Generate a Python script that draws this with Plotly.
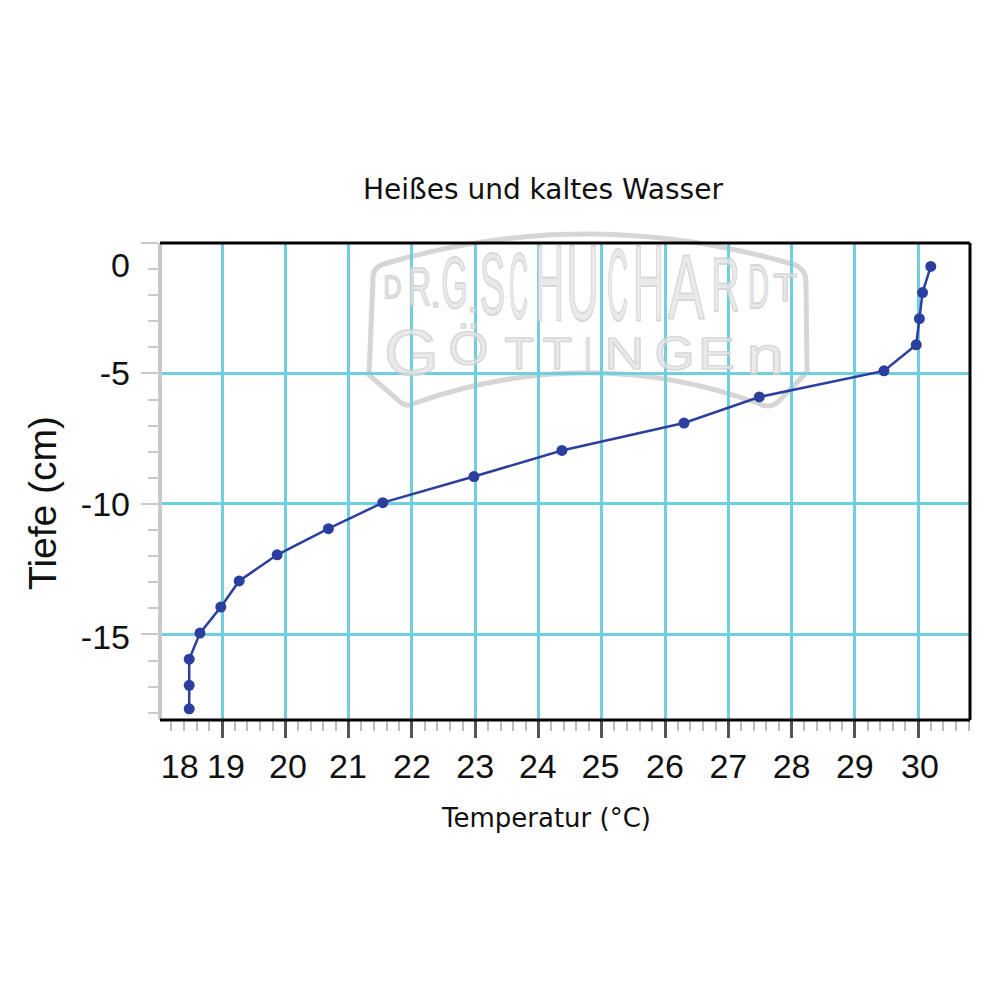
import json
import plotly.graph_objects as go

# ---- data ----
temperature = [30.20, 30.07, 30.02, 29.97, 29.46, 27.49, 26.30, 24.37, 22.98,
               21.54, 20.68, 19.87, 19.27, 18.98, 18.65, 18.48, 18.48, 18.48]
depth = [-0.9, -1.9, -2.9, -3.9, -4.9, -5.9, -6.9, -7.95, -8.95,
         -9.95, -10.95, -11.95, -12.95, -13.95, -14.95, -15.95, -16.95, -17.85]

x_ticks = list(range(19, 31))
x_tick_labels = ["18", "19", "20", "21", "22", "23", "24", "25", "26", "27", "28", "29", "30"]
x_label_places = [18.33, 19.06, 20.04, 20.99, 22, 23, 23.99, 24.98, 26, 27, 28, 29, 30.03]
y_ticks = [0, -5, -10, -15]
y_tick_labels = ["0", "-5", "-10", "-15"]
y_label_places = [-0.85, -5, -10, -15.1]

title_text = "Heißes und kaltes Wasser"
x_title = "Temperatur (°C)"
y_title = "Tiefe (cm)"

# ---- frame, in window pixels ----
L, R, T, B = 162, 970, 243, 720
PAGE = 8          # default margin of the page body
SIZE = 985
X_RANGE = [18.05, 30.82]
Y_RANGE = [-18.28, 0.0]
def px(v): return (v - L) / (R - L)
def py(v): return (B - v) / (B - T)

LINE = "#2b3f9f"
GRID = "#6fcfdf"
GREY = "#c9c9c9"
STAMP = "#d6d6d6"
STAMP_FILL = "#e6e6e6"
STAMP_EDGE = "#cfcfcf"

# watermark letters: char, centre x, centre y, width, height (window pixels)
logo = [("D", 392, 287, 17, 23), ("R", 419, 287, 22, 38), (".", 435, 293, 6, 6),
        ("G", 454, 283, 25, 52), (".", 472, 298, 7, 7), ("S", 492, 283, 24, 63),
        ("C", 518, 285, 18, 67), ("H", 549, 283, 28, 77), ("U", 582, 283, 31, 77),
        ("C", 617, 285, 20, 73), ("H", 648, 283, 30, 77), ("A", 686, 286, 35, 65),
        ("R", 725, 284, 27, 55), ("D", 758, 286, 20, 45), ("T", 785, 287, 23, 28),
        ("G", 411, 352, 52, 47), ("Ö", 468, 348, 38, 34), ("T", 519, 353, 28, 32),
        ("T", 557, 353, 28, 32), ("I", 587, 353, 7, 32), ("N", 624, 353, 38, 32),
        ("G", 674, 353, 38, 35), ("E", 716, 353, 35, 32), ("n", 765, 356, 36, 38)]

annotations = [
    dict(text=c, x=px(cx), y=py(cy), xref="paper", yref="paper", showarrow=False,
         xanchor="center", yanchor="middle",
         font=dict(family="Liberation Sans", size=40, color=STAMP_FILL))
    for c, cx, cy, w, h in logo
]
annotations += [
    dict(text=title_text, x=px(543), y=py(190), xref="paper", yref="paper", showarrow=False,
         xanchor="center", yanchor="middle",
         font=dict(family="DejaVu Sans", size=28, color="#111111")),
    dict(text=x_title, x=px(546), y=py(818), xref="paper", yref="paper", showarrow=False,
         xanchor="center", yanchor="middle",
         font=dict(family="DejaVu Sans", size=26, color="#111111")),
    dict(text=y_title, x=px(42), y=py(503), xref="paper", yref="paper", showarrow=False,
         xanchor="center", yanchor="middle",
         textangle=-90, font=dict(family="Liberation Sans", size=39, color="#111111")),
]

def P(a, b):
    return f"{px(a):.4f},{py(b):.4f}"

hexagon = ("M" + P(373, 280) + " Q" + P(372, 268) + " " + P(384, 264)
           + " Q" + P(585, 204) + " " + P(792, 264) + " Q" + P(806, 268) + " " + P(806, 282)
           + " L" + P(807, 372) + " L" + P(778, 402) + " Q" + P(770, 409) + " " + P(760, 404)
           + " Q" + P(590, 342) + " " + P(415, 403) + " Q" + P(407, 408) + " " + P(400, 402)
           + " L" + P(369, 375) + " Z")

fig = go.Figure()
fig.add_trace(go.Scatter(x=temperature, y=depth, mode="lines+markers", xaxis="x", yaxis="y",
                         line=dict(color=LINE, width=2.5), marker=dict(color=LINE, size=11),
                         showlegend=False, hoverinfo="skip", cliponaxis=False))
# invisible carrier for the displaced tick labels
fig.add_trace(go.Scatter(x=[X_RANGE[0]], y=[Y_RANGE[0]], mode="markers", xaxis="x2", yaxis="y2",
                         marker=dict(opacity=0), showlegend=False, hoverinfo="skip"))

fig.update_layout(
    width=SIZE, height=SIZE, paper_bgcolor="white", plot_bgcolor="white",
    margin=dict(l=L - PAGE, r=SIZE - (R - PAGE), t=T - PAGE, b=SIZE - (B - PAGE), autoexpand=False),
    annotations=annotations,
    shapes=[
        dict(type="path", path=hexagon, xref="paper", yref="paper", layer="below",
             line=dict(color=STAMP, width=5)),
        dict(type="line", xref="paper", yref="paper", x0=1, x1=1, y0=0, y1=1,
             line=dict(color="black", width=3)),
        dict(type="line", xref="paper", yref="paper", x0=px(160), x1=1, y0=1, y1=1,
             line=dict(color="black", width=3)),
        dict(type="line", xref="paper", yref="paper", x0=px(160), x1=1, y0=0, y1=0,
             line=dict(color="black", width=3)),
    ],
    xaxis=dict(range=X_RANGE, domain=[0, 1], tickmode="array", tickvals=x_ticks,
               showticklabels=False, showgrid=True, gridcolor=GRID, gridwidth=3,
               zeroline=False, showline=False, ticks="outside", ticklen=17, tickwidth=3,
               tickcolor="#555555",
               minor=dict(tick0=18, dtick=0.2, ticks="outside", ticklen=10, tickwidth=2,
                          tickcolor="#bdbdbd", showgrid=False)),
    yaxis=dict(range=Y_RANGE, domain=[0, 1], tickmode="array", tickvals=y_ticks,
               showticklabels=False, showgrid=True, gridcolor=GRID, gridwidth=3,
               zeroline=False, showline=True, linecolor=GREY, linewidth=4,
               ticks="outside", ticklen=17, tickwidth=2, tickcolor=GREY,
               minor=dict(tick0=0, dtick=1, ticks="outside", ticklen=10, tickwidth=2,
                          tickcolor=GREY, showgrid=False)),
    xaxis2=dict(range=X_RANGE, overlaying="x", anchor="y2", side="bottom", tickmode="array",
                tickvals=x_label_places, ticktext=x_tick_labels, ticks="", showgrid=False,
                zeroline=False, showline=False, ticklabelstandoff=23,
                tickfont=dict(family="Liberation Sans", size=34, color="#111111")),
    yaxis2=dict(range=Y_RANGE, overlaying="y", anchor="x2", side="left", tickmode="array",
                tickvals=y_label_places, ticktext=y_tick_labels, ticks="", showgrid=False,
                zeroline=False, showline=False, ticklabelstandoff=31,
                tickfont=dict(family="Liberation Sans", size=34, color="#111111")),
)

# stretch each watermark letter to the proportions of the stamp
sizes = json.dumps([[w, h] for _, _, _, w, h in logo])
post = """
var gd = document.getElementById('{plot_id}');
var sizes = %s;
sizes.forEach(function (s, i) {
  var t = gd.querySelector('.annotation[data-index="' + i + '"] text');
  if (!t) return;
  t.style.stroke = '%s';
  t.style.strokeWidth = '1.6px';
  t.style.vectorEffect = 'non-scaling-stroke';
  t.style.strokeLinejoin = 'round';
  t.setAttribute('opacity', '0.8');
  if (s[1] < 10) return;
  var b = t.getBBox(), cx = b.x + b.width / 2, cy = b.y + b.height / 2;
  var sx = s[0] / (b.width * 0.95), sy = s[1] / (40 * 0.72);
  t.setAttribute('transform', 'translate(' + cx + ',' + cy + ') scale(' + sx + ',' + sy + ') translate(' + (-cx) + ',' + (-cy) + ')');
});
""" % (sizes, STAMP_EDGE)

fig.write_html("out.html", post_script=post)
